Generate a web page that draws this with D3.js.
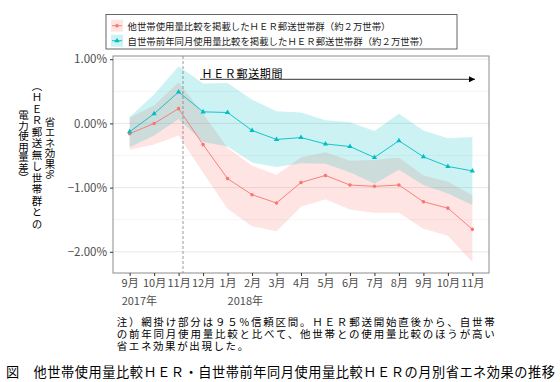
<!DOCTYPE html>
<html>
<head>
<meta charset="utf-8">
<script src="https://cdn.jsdelivr.net/npm/d3@7"></script>
<style>
  body { margin: 0; background: #fff; }
  svg { display: block; font-family: "Noto Sans CJK JP", sans-serif; }
</style>
</head>
<body>
<script>
// months on the x axis
const months = ["9月", "10月", "11月", "12月", "1月", "2月", "3月", "4月", "5月", "6月", "7月", "8月", "9月", "10月", "11月"];
const years = [{i: 0, label: "2017年"}, {i: 4, label: "2018年"}];

// 他世帯使用量比較 (red) : estimate and 95% interval, in %
const otherMean = [-0.16, 0.00, 0.23, -0.33, -0.86, -1.11, -1.24, -0.92, -0.81, -0.96, -0.98, -0.96, -1.22, -1.32, -1.65];
const otherUpper = [0.09, 0.28, 0.64, 0.15, -0.38, -0.66, -0.80, -0.53, -0.45, -0.58, -0.57, -0.53, -0.81, -0.91, -1.12];
const otherLower = [-0.41, -0.33, -0.19, -0.77, -1.33, -1.60, -1.68, -1.30, -1.18, -1.34, -1.39, -1.39, -1.64, -1.75, -2.16];

// 自世帯前年同月使用量比較 (cyan)
const selfMean = [-0.13, 0.15, 0.49, 0.18, 0.17, -0.11, -0.25, -0.22, -0.32, -0.36, -0.53, -0.27, -0.52, -0.67, -0.74];
const selfUpper = [0.10, 0.45, 0.89, 0.62, 0.63, 0.37, 0.19, 0.17, 0.05, 0.02, -0.12, 0.15, -0.11, -0.23, -0.21];
const selfLower = [-0.37, -0.19, 0.07, -0.29, -0.36, -0.61, -0.68, -0.62, -0.63, -0.76, -0.94, -0.72, -0.96, -1.09, -1.27];

const yTicks = [1, 0, -1, -2];
const yMinor = [0.5, -0.5, -1.5];
const legendLabels = ["他世帯使用量比較を掲載したＨＥＲ郵送世帯群（約２万世帯）",
                      "自世帯前年同月使用量比較を掲載したＨＥＲ郵送世帯群（約２万世帯）"];
const noteLines = ["注）網掛け部分は９５%信頼区間。ＨＥＲ郵送開始直後から、自世帯",
                   "の前年同月使用量比較と比べて、他世帯との使用量比較のほうが高い",
                   "省エネ効果が出現した。"];
const title = "図　他世帯使用量比較ＨＥＲ・自世帯前年同月使用量比較ＨＥＲの月別省エネ効果の推移";
const yTitle = ["省エネ効果%", "（ＨＥＲ郵送無し世帯群との", "電力使用量差）"];
const herStart = 2.18; // dashed line, start of mailing

const red = "#F8766D", cyan = "#00BFC4";

const width = 560, height = 382;
const panel = {left: 113, right: 489, top: 56, bottom: 273};

const svg = d3.select("body").append("svg")
    .attr("width", width)
    .attr("height", height);

const x = d3.scaleLinear()
    .domain([-0.68, months.length - 1 + 0.68])
    .range([panel.left, panel.right]);

const y = d3.scaleLinear()
    .domain([-2.33, 1.05])
    .range([panel.bottom, panel.top]);

// grid
svg.selectAll(".minor")
    .data(yMinor)
    .enter().append("line")
    .attr("x1", panel.left).attr("x2", panel.right)
    .attr("y1", d => y(d)).attr("y2", d => y(d))
    .attr("stroke", "#f0f0f0").attr("stroke-width", 0.7);
svg.selectAll(".major")
    .data(yTicks)
    .enter().append("line")
    .attr("x1", panel.left).attr("x2", panel.right)
    .attr("y1", d => y(d)).attr("y2", d => y(d))
    .attr("stroke", "#e8e8e8").attr("stroke-width", 1);

// ribbons
const idx = d3.range(months.length);
function ribbon(lower, upper, color) {
    const area = d3.area()
        .x(i => x(i))
        .y0(i => y(lower[i]))
        .y1(i => y(upper[i]));
    svg.append("path")
        .attr("d", area(idx))
        .attr("fill", color)
        .attr("fill-opacity", 0.2);
}
ribbon(otherLower, otherUpper, red);
ribbon(selfLower, selfUpper, cyan);

// dashed line
svg.append("line")
    .attr("x1", x(herStart)).attr("x2", x(herStart))
    .attr("y1", panel.top).attr("y2", panel.bottom)
    .attr("stroke", "#7f7f7f")
    .attr("stroke-width", 0.8)
    .attr("stroke-dasharray", "3,2");

// lines + points
function series(values, color, shape) {
    const line = d3.line()
        .x(i => x(i))
        .y(i => y(values[i]));
    svg.append("path")
        .attr("d", line(idx))
        .attr("fill", "none")
        .attr("stroke", color)
        .attr("stroke-width", 0.9);
    svg.selectAll(null)
        .data(idx)
        .enter().append("path")
        .attr("transform", i => `translate(${x(i)},${y(values[i])})`)
        .attr("d", d3.symbol().type(shape).size(shape === d3.symbolCircle ? 10 : 12))
        .attr("fill", color);
}
series(otherMean, red, d3.symbolCircle);
series(selfMean, cyan, d3.symbolTriangle);

// arrow annotation
svg.append("defs").append("marker")
    .attr("id", "head")
    .attr("viewBox", "0 0 10 10")
    .attr("refX", 10).attr("refY", 5)
    .attr("markerWidth", 7).attr("markerHeight", 6)
    .attr("markerUnits", "userSpaceOnUse")
    .attr("orient", "auto")
    .append("path")
    .attr("d", "M0,0L10,5L0,10Z")
    .attr("fill", "#000");
svg.append("line")
    .attr("x1", 200).attr("x2", 475)
    .attr("y1", 79.3).attr("y2", 79.3)
    .attr("stroke", "#000").attr("stroke-width", 0.8)
    .attr("marker-end", "url(#head)");
svg.append("text")
    .attr("x", 201.5).attr("y", 72.6)
    .attr("dominant-baseline", "central")
    .attr("font-size", "11px")
    .attr("textLength", 81)
    .attr("fill", "#000")
    .text("ＨＥＲ郵送期間");

// panel border
svg.append("rect")
    .attr("x", panel.left).attr("y", panel.top)
    .attr("width", panel.right - panel.left)
    .attr("height", panel.bottom - panel.top)
    .attr("fill", "none")
    .attr("stroke", "#8c8c8c")
    .attr("stroke-width", 1);

// y axis
const yAxis = svg.append("g")
    .attr("transform", `translate(${panel.left},0)`)
    .call(d3.axisLeft(y).tickValues(yTicks).tickSize(3).tickPadding(3)
        .tickFormat(d => d3.format(".2f")(d) + "%"));
yAxis.select(".domain").remove();
yAxis.selectAll("line").attr("stroke", "#333");
yAxis.selectAll("text")
    .attr("font-size", "11.5px")
    .attr("fill", "#4d4d4d")
    .attr("font-family", "Noto Sans CJK JP");

// x axis
const xAxis = svg.append("g")
    .attr("transform", `translate(0,${panel.bottom})`)
    .call(d3.axisBottom(x).tickValues(idx).tickSize(3).tickPadding(3)
        .tickFormat(i => months[i]));
xAxis.select(".domain").remove();
xAxis.selectAll("line").attr("stroke", "#333");
xAxis.selectAll("text")
    .attr("font-size", "11px")
    .attr("fill", "#4d4d4d")
    .attr("font-family", "Noto Sans CJK JP");

svg.selectAll(".year")
    .data(years)
    .enter().append("text")
    .attr("x", (d, k) => x(d.i) - (k === 0 ? 8 : 0))
    .attr("y", 300.3)
    .attr("dominant-baseline", "central")
    .attr("font-size", "11px")
    .attr("fill", "#4d4d4d")
    .text(d => d.label);

// y title: vertical writing, one character per text so each can be placed
const yTitleX = [50, 37, 23.5];
const yTitleY = [148, 155, 147];
const yTitleStep = [10.5, 11.5, 10.5];
yTitle.forEach((str, k) => {
    const chars = Array.from(str);
    const top = yTitleY[k] - chars.length * yTitleStep[k] / 2;
    svg.selectAll(null)
        .data(chars)
        .enter().append("text")
        .attr("x", yTitleX[k])
        .attr("y", (c, j) => top + (j + 0.5) * yTitleStep[k])
        .attr("text-anchor", "middle")
        .style("writing-mode", "vertical-rl")
        .attr("font-size", "10.5px")
        .attr("fill", "#000")
        .text(c => c);
});

// legend
const legend = svg.append("g");
legend.append("rect")
    .attr("x", 106).attr("y", 14.5)
    .attr("width", 351).attr("height", 34.5)
    .attr("fill", "#fff")
    .attr("stroke", "#555").attr("stroke-width", 0.9);
const legendColors = [red, cyan];
const legendShapes = [d3.symbolCircle, d3.symbolTriangle];
const legendWidths = [263, 301];
const items = legend.selectAll(".legend-item")
    .data(legendLabels)
    .enter().append("g")
    .attr("transform", (d, k) => `translate(111,${25.7 + k * 15})`);
items.append("rect")
    .attr("x", 0).attr("y", -6)
    .attr("width", 12).attr("height", 12)
    .attr("fill", (d, k) => legendColors[k])
    .attr("fill-opacity", 0.2);
items.append("line")
    .attr("x1", 1).attr("x2", 11)
    .attr("stroke", (d, k) => legendColors[k])
    .attr("stroke-width", 0.9);
items.append("path")
    .attr("transform", "translate(6,0)")
    .attr("d", (d, k) => d3.symbol().type(legendShapes[k]).size(k === 0 ? 10 : 12)())
    .attr("fill", (d, k) => legendColors[k]);
items.append("text")
    .attr("x", 16.5)
    .attr("dominant-baseline", "central")
    .attr("font-size", "9.4px")
    .attr("textLength", (d, k) => legendWidths[k])
    .attr("fill", "#1a1a1a")
    .text(d => d);

// note
const noteWidths = [378, 378, null];
svg.selectAll(".note")
    .data(noteLines)
    .enter().append("text")
    .attr("x", 116.7)
    .attr("y", (d, k) => 321.5 + k * 11.8)
    .attr("dominant-baseline", "central")
    .attr("font-size", "10.5px")
    .attr("textLength", (d, k) => noteWidths[k])
    .attr("letter-spacing", (d, k) => noteWidths[k] ? null : "1.6px")
    .attr("fill", "#000")
    .text(d => d);

// caption
svg.append("text")
    .attr("x", 6)
    .attr("y", 371.7)
    .attr("dominant-baseline", "central")
    .attr("font-size", "13.2px")
    .attr("textLength", 549)
    .attr("fill", "#000")
    .text(title);
</script>
</body>
</html>
